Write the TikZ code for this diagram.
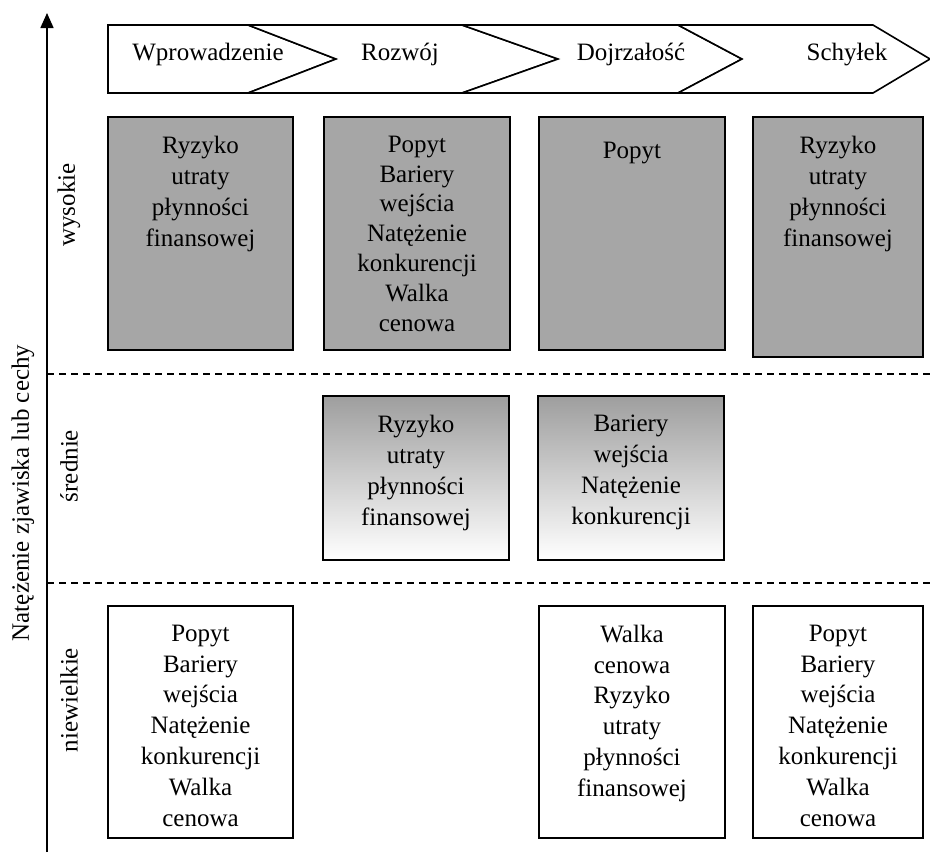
\documentclass[tikz,border=0pt]{standalone}
\usepackage{fontspec}
\setmainfont{Liberation Serif}
\usetikzlibrary{arrows.meta}
\definecolor{highgray}{RGB}{166,166,166}
\definecolor{midtop}{RGB}{158,158,158}
\begin{document}
\begin{tikzpicture}[x=1pt,y=-1pt,
  every node/.style={font=\fontsize{25}{31}\selectfont, inner sep=0pt, outer sep=0pt},
  boxbase/.style={rectangle, draw=black, line width=1.6pt, anchor=north west},
  hibox/.style={boxbase, fill=highgray},
  midbox/.style={boxbase, top color=midtop, bottom color=white},
  lowbox/.style={boxbase, fill=white},
  boxtext/.style={align=center, anchor=north},
  chev/.style={draw=black, line width=1.6pt, line join=miter, fill=white},
  sep/.style={draw=black, line width=1.6pt, dash pattern=on 7pt off 5pt},
  axisline/.style={draw=black, line width=1.6pt, -{Triangle[width=13pt,length=15pt]}},
  rowlabel/.style={rotate=90, anchor=center}
]
\useasboundingbox (0,0) rectangle (930,855);

% axis
\coordinate (axb) at (47,852);
\coordinate (axt) at (47,13);
\draw[axisline] (axb) -- (axt);
\node[rotate=90, anchor=center] (axlab) at (23,493) {Natężenie zjawiska lub cechy};

% row labels
\node[rowlabel] (lw) at (69,205) {wysokie};
\node[rowlabel] (ls) at (69,466) {średnie};
\node[rowlabel] (ln) at (69,700) {niewielkie};

% separators
\coordinate (s1a) at (47,374); \coordinate (s1b) at (930,374);
\coordinate (s2a) at (47,583); \coordinate (s2b) at (930,583);
\draw[sep] (s1a) -- (s1b);
\draw[sep] (s2a) -- (s2b);

% chevrons
\draw[chev] (108,25) -- (248,25) -- (336,59) -- (248,93) -- (108,93) -- cycle;
\draw[chev] (248,25) -- (462,25) -- (558,59) -- (462,93) -- (248,93) -- (336,59) -- cycle;
\draw[chev] (462,25) -- (678,25) -- (742,59) -- (678,93) -- (462,93) -- (558,59) -- cycle;
\draw[chev] (678,25) -- (873,25) -- (930,59) -- (873,93) -- (678,93) -- (742,59) -- cycle;
\node[anchor=base] (c1) at (208,60) {Wprowadzenie};
\node[anchor=base] (c2) at (400,60) {Rozwój};
\node[anchor=base] (c3) at (631,60) {Dojrzałość};
\node[anchor=base] (c4) at (847,60) {Schyłek};

% high row
\node[hibox, minimum width=185pt, minimum height=233pt] (h1) at (108,117) {};
\node[hibox, minimum width=186pt, minimum height=233pt] (h2) at (324,117) {};
\node[hibox, minimum width=186pt, minimum height=233pt] (h3) at (539,117) {};
\node[hibox, minimum width=170pt, minimum height=240pt] (h4) at (753,117) {};
\node[boxtext] (h1t) at ([yshift=-19pt]h1.north) {Ryzyko\\utraty\\płynności\\finansowej};
\node[boxtext, font=\fontsize{25}{29.8}\selectfont] (h2t) at ([yshift=-19pt]h2.north) {Popyt\\Bariery\\wejścia\\Natężenie\\konkurencji\\Walka\\cenowa};
\node[boxtext] (h3t) at ([yshift=-25pt]h3.north) {Popyt};
\node[boxtext] (h4t) at ([yshift=-19pt]h4.north) {Ryzyko\\utraty\\płynności\\finansowej};

% middle row
\node[midbox, minimum width=186pt, minimum height=164pt] (m2) at (323,396) {};
\node[midbox, minimum width=186pt, minimum height=164pt] (m3) at (538,396) {};
\node[boxtext] (m2t) at ([yshift=-19pt]m2.north) {Ryzyko\\utraty\\płynności\\finansowej};
\node[boxtext] (m3t) at ([yshift=-19pt]m3.north) {Bariery\\wejścia\\Natężenie\\konkurencji};

% low row
\node[lowbox, minimum width=185pt, minimum height=232pt] (l1) at (108,606) {};
\node[lowbox, minimum width=186pt, minimum height=232pt] (l3) at (539,606) {};
\node[lowbox, minimum width=170pt, minimum height=232pt] (l4) at (753,606) {};
\node[boxtext, font=\fontsize{25}{30.8}\selectfont] (l1t) at ([yshift=-19pt]l1.north) {Popyt\\Bariery\\wejścia\\Natężenie\\konkurencji\\Walka\\cenowa};
\node[boxtext, font=\fontsize{25}{30.8}\selectfont] (l3t) at ([yshift=-19pt]l3.north) {Walka\\cenowa\\Ryzyko\\utraty\\płynności\\finansowej};
\node[boxtext, font=\fontsize{25}{30.8}\selectfont] (l4t) at ([yshift=-19pt]l4.north) {Popyt\\Bariery\\wejścia\\Natężenie\\konkurencji\\Walka\\cenowa};
\end{tikzpicture}
\end{document}
